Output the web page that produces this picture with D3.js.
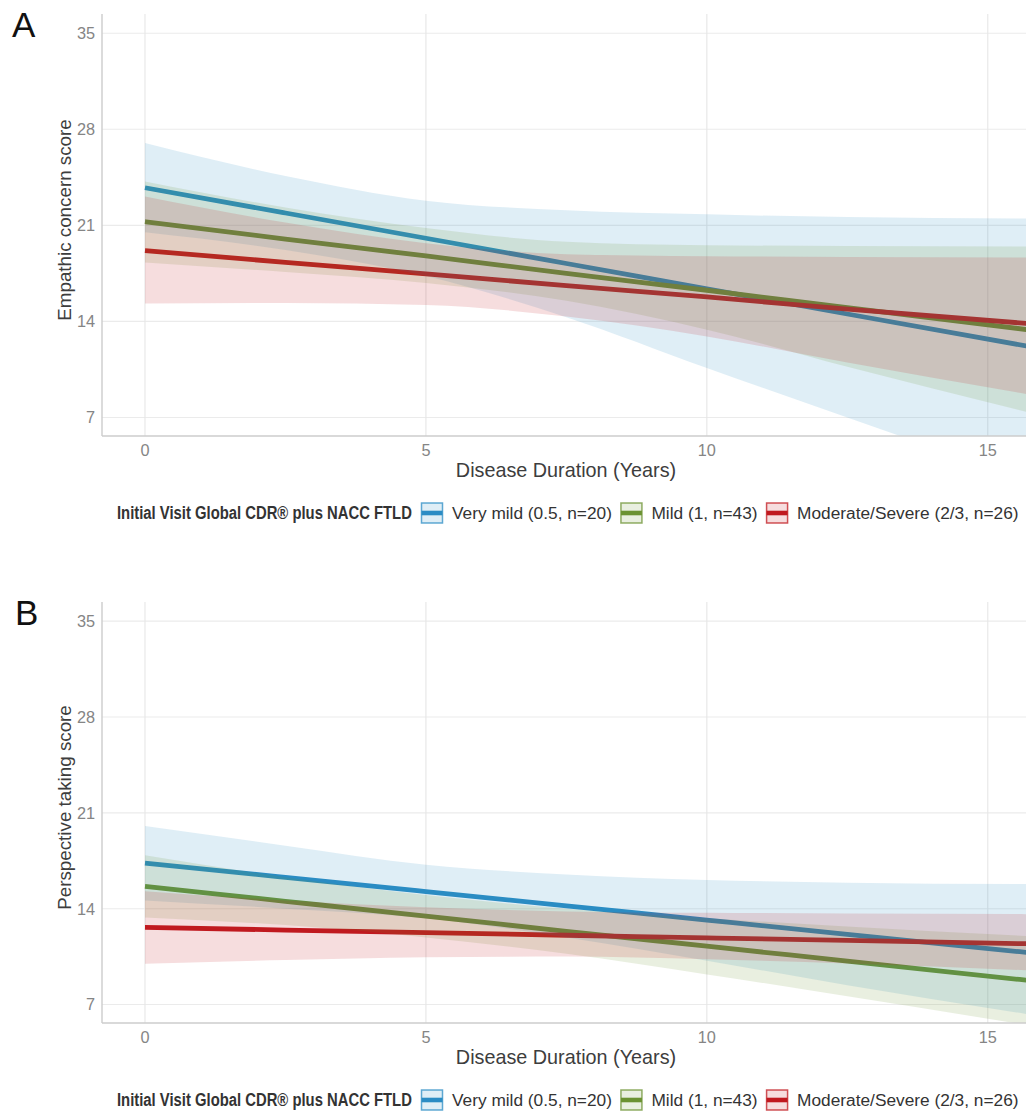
<!DOCTYPE html>
<html>
<head>
<meta charset="utf-8">
<script src="https://cdn.jsdelivr.net/npm/d3@7"></script>
<style>
  body { margin: 0; background: #fff; }
  svg { display: block; font-family: "Liberation Sans", Arial, sans-serif; }
</style>
</head>
<body>
<div id="chart"></div>
<script>
// years since onset where the fitted curves were read
const durations = [0, 2.5, 5, 7.5, 10, 12.5, 15.7];
const groupNames = ["Very mild (0.5, n=20)", "Mild (1, n=43)", "Moderate/Severe (2/3, n=26)"];
const groupColors = ["#2b8cc4", "#6b9232", "#c0191f"];
const yTickVals = [7, 14, 21, 28, 35];
const xTickVals = [0, 5, 10, 15];
const legendTitle = "Initial Visit Global CDR\u00AE plus NACC FTLD";

// panel A: empathic concern
const empVeryMildFit  = [23.74, 21.9, 20.06, 18.22, 16.38, 14.54, 12.2];
const empVeryMildLow  = [20.5, 19.2, 17.3, 14.3, 10.6, 7.0, 2.4];
const empVeryMildHigh = [27.0, 24.6, 22.8, 22.1, 21.8, 21.6, 21.5];
const empMildFit  = [21.27, 20.0, 18.77, 17.5, 16.27, 15.0, 13.4];
const empMildLow  = [18.3, 17.6, 16.8, 15.5, 13.4, 10.7, 7.4];
const empMildHigh = [24.2, 22.3, 20.8, 19.8, 19.55, 19.5, 19.45];
const empModFit  = [19.16, 18.3, 17.47, 16.6, 15.78, 14.9, 13.85];
const empModLow  = [15.3, 15.35, 15.2, 14.35, 12.9, 11.0, 8.7];
const empModHigh = [23.1, 21.2, 19.7, 18.9, 18.75, 18.7, 18.65];

// panel B: perspective taking
const ptVeryMildFit  = [17.33, 16.29, 15.25, 14.21, 13.17, 12.13, 10.8];
const ptVeryMildLow  = [14.6, 14.0, 13.3, 11.9, 10.2, 8.4, 6.3];
const ptVeryMildHigh = [20.04, 18.6, 17.2, 16.5, 16.1, 15.9, 15.8];
const ptMildFit  = [15.63, 14.54, 13.45, 12.35, 11.26, 10.17, 8.77];
const ptMildLow  = [13.36, 12.8, 11.9, 10.7, 9.2, 7.6, 5.5];
const ptMildHigh = [17.9, 16.3, 15.0, 14.0, 13.3, 12.7, 12.0];
const ptModFit  = [12.63, 12.44, 12.25, 12.06, 11.87, 11.68, 11.44];
const ptModLow  = [9.98, 10.25, 10.45, 10.5, 10.3, 10.0, 9.5];
const ptModHigh = [15.28, 14.6, 14.1, 13.8, 13.7, 13.65, 13.6];

const width = 1026, height = 1111;
const plotLeft = 102, plotRight = 1026;

const svg = d3.select("#chart").append("svg")
  .attr("width", width)
  .attr("height", height);

const x = d3.scaleLinear().domain([-0.765, 15.68]).range([plotLeft, plotRight]);

function series(fit, low, high) {
  return durations.map((d, i) => ({ t: d, fit: fit[i], low: low[i], high: high[i] }));
}

function drawPanel(cfg) {
  const g = svg.append("g");
  const y = d3.scaleLinear().domain([5.65, 36.4]).range([cfg.bottom, cfg.top]);

  // grid
  g.append("g").selectAll("line").data(yTickVals).join("line")
    .attr("x1", plotLeft).attr("x2", plotRight)
    .attr("y1", d => y(d)).attr("y2", d => y(d))
    .attr("stroke", "#ebebeb").attr("stroke-width", 1.1);
  g.append("g").selectAll("line").data(xTickVals).join("line")
    .attr("x1", d => x(d)).attr("x2", d => x(d))
    .attr("y1", cfg.top).attr("y2", cfg.bottom)
    .attr("stroke", "#e6e6e6").attr("stroke-width", 1.1);

  const clipId = "clip" + cfg.letter;
  svg.append("clipPath").attr("id", clipId).append("rect")
    .attr("x", plotLeft).attr("y", cfg.top)
    .attr("width", plotRight - plotLeft).attr("height", cfg.bottom - cfg.top);

  const marks = g.append("g").attr("clip-path", `url(#${clipId})`);
  const line = d3.line().x(d => x(d.t)).y(d => y(d.fit)).curve(d3.curveMonotoneX);
  const area = d3.area().x(d => x(d.t)).y0(d => y(d.low)).y1(d => y(d.high)).curve(d3.curveMonotoneX);

  cfg.data.forEach((s, i) => {
    marks.append("path").datum(s)
      .attr("d", line)
      .attr("fill", "none")
      .attr("stroke", groupColors[i])
      .attr("stroke-width", 4.8);
  });
  cfg.data.forEach((s, i) => {
    marks.append("path").datum(s)
      .attr("d", area)
      .attr("fill", groupColors[i])
      .attr("fill-opacity", 0.15);
  });

  // axis lines
  g.append("line").attr("x1", plotLeft).attr("x2", plotLeft)
    .attr("y1", cfg.top).attr("y2", cfg.bottom)
    .attr("stroke", "#cccccc").attr("stroke-width", 1.4);
  g.append("line").attr("x1", plotLeft).attr("x2", plotRight)
    .attr("y1", cfg.bottom).attr("y2", cfg.bottom)
    .attr("stroke", "#cccccc").attr("stroke-width", 1.4);

  // tick labels
  g.append("g").selectAll("text").data(yTickVals).join("text")
    .attr("x", 95).attr("y", d => y(d)).attr("dy", "0.36em")
    .attr("text-anchor", "end")
    .attr("font-size", 16.3).attr("fill", "#858585")
    .text(d => d);
  g.append("g").selectAll("text").data(xTickVals).join("text")
    .attr("x", d => x(d)).attr("y", cfg.bottom + 20)
    .attr("text-anchor", "middle")
    .attr("font-size", 16.3).attr("fill", "#858585")
    .text(d => d);

  // titles
  g.append("text")
    .attr("x", 566).attr("y", cfg.bottom + 41)
    .attr("text-anchor", "middle")
    .attr("font-size", 19.8).attr("fill", "#3d3d3d")
    .text("Disease Duration (Years)");
  g.append("text")
    .attr("transform", `translate(71,${(cfg.top + cfg.bottom) / 2 - 5}) rotate(-90)`)
    .attr("text-anchor", "middle")
    .attr("font-size", 18.8).attr("fill", "#3d3d3d")
    .text(cfg.yTitle);
  g.append("text")
    .attr("x", cfg.letterX).attr("y", cfg.top + 23)
    .attr("font-size", 35).attr("fill", "#111")
    .text(cfg.letter);

  // legend
  const ly = cfg.bottom + 77;
  const leg = g.append("g");
  const titleWidth = 295;
  const title = leg.append("text")
    .attr("dy", "0.36em")
    .attr("font-weight", "bold")
    .attr("font-size", 18).attr("fill", "#333")
    .text(legendTitle);
  // squeeze the bold title to look like a narrow face
  const sx = titleWidth / title.node().getComputedTextLength();
  title.attr("transform", `translate(117,${ly}) scale(${sx},1)`);

  let cx = 117 + titleWidth + 9.5;
  groupNames.forEach((name, i) => {
    leg.append("rect")
      .attr("x", cx).attr("y", ly - 10).attr("width", 21).attr("height", 20)
      .attr("fill", groupColors[i]).attr("fill-opacity", 0.15)
      .attr("stroke", groupColors[i]).attr("stroke-opacity", 0.75).attr("stroke-width", 1.5);
    leg.append("line")
      .attr("x1", cx).attr("x2", cx + 21).attr("y1", ly).attr("y2", ly)
      .attr("stroke", groupColors[i]).attr("stroke-width", 4.6);
    const t = leg.append("text")
      .attr("x", cx + 30.5).attr("y", ly).attr("dy", "0.36em")
      .attr("font-size", 17.3).attr("fill", "#333")
      .text(name);
    cx += 30.5 + t.node().getComputedTextLength() + 9;
  });
}

drawPanel({
  letter: "A", letterX: 12, top: 14, bottom: 436,
  yTitle: "Empathic concern score",
  data: [
    series(empVeryMildFit, empVeryMildLow, empVeryMildHigh),
    series(empMildFit, empMildLow, empMildHigh),
    series(empModFit, empModLow, empModHigh)
  ]
});

drawPanel({
  letter: "B", letterX: 15, top: 602, bottom: 1023,
  yTitle: "Perspective taking score",
  data: [
    series(ptVeryMildFit, ptVeryMildLow, ptVeryMildHigh),
    series(ptMildFit, ptMildLow, ptMildHigh),
    series(ptModFit, ptModLow, ptModHigh)
  ]
});
</script>
</body>
</html>
